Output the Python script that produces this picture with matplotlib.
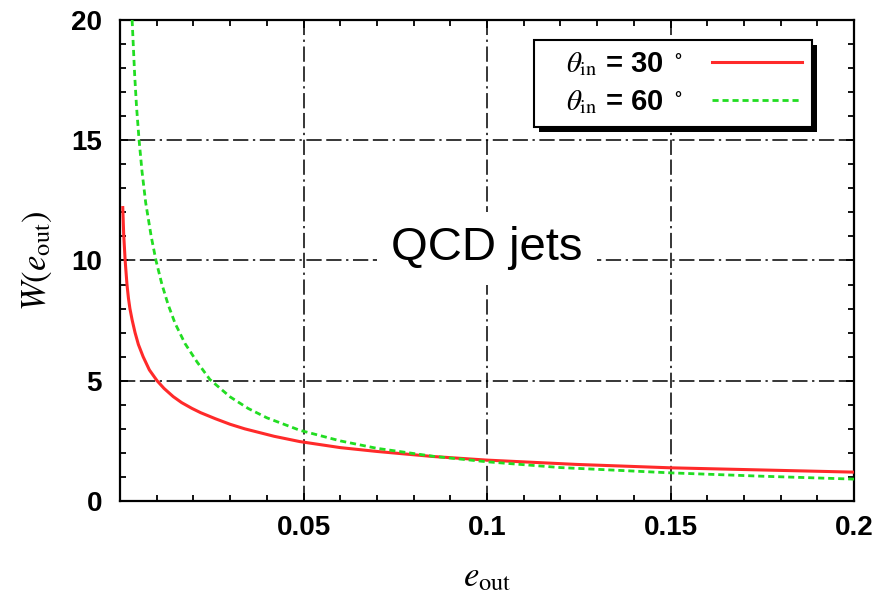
import numpy as np
import matplotlib
matplotlib.use("Agg")
import matplotlib.pyplot as plt
from matplotlib.ticker import MultipleLocator
from matplotlib.patches import Rectangle

plt.rcParams['font.family'] = ['Liberation Sans', 'DejaVu Sans']
plt.rcParams['mathtext.fontset'] = 'stix'

# W(e_out) for two jet opening angles
e_30 = [0.00075, 0.001, 0.0014, 0.0019, 0.0023, 0.0027, 0.0033, 0.0041, 0.005,
        0.0063, 0.008, 0.0101, 0.012, 0.0145, 0.0168, 0.0196, 0.022, 0.026,
        0.03, 0.034, 0.042, 0.049, 0.06, 0.07, 0.0853,
        0.1, 0.1245, 0.15, 0.175, 0.2]
w_30 = [12.2, 11.1, 10.0, 9.0, 8.43, 8.0, 7.53, 7.0, 6.51,
        6.0, 5.45, 5.0, 4.68, 4.34, 4.09, 3.85, 3.67, 3.42,
        3.19, 3.0, 2.69, 2.47, 2.22, 2.06, 1.85,
        1.70, 1.52, 1.38, 1.29, 1.2]

e_60 = [0.0033, 0.004, 0.0045, 0.0052, 0.006, 0.007, 0.0085, 0.0098, 0.0114,
        0.0131, 0.015, 0.0177, 0.021, 0.0245, 0.03, 0.0349, 0.04, 0.049,
        0.06, 0.07, 0.0853, 0.1, 0.12, 0.15, 0.175, 0.2]
w_60 = [20.0, 17.7, 16.4, 15.0, 13.7, 12.4, 11.0, 10.0, 9.02,
        8.17, 7.39, 6.55, 5.78, 5.05, 4.33, 3.85, 3.46, 2.94,
        2.50, 2.19, 1.86, 1.63, 1.39, 1.17, 1.03, 0.91]

labels = [r'$\theta_{\rm in}$ = 30 $^\circ$', r'$\theta_{\rm in}$ = 60 $^\circ$']
xticks = [0.05, 0.1, 0.15, 0.2]
xticklabels = ['0.05', '0.1', '0.15', '0.2']
yticks = [0, 5, 10, 15, 20]

fig = plt.figure(figsize=(8.85, 6.05), dpi=100)
ax = fig.add_axes([0.1356, 0.1719, 0.8294, 0.7951])

ax.plot(e_30, w_30, color='#ff2a2a', lw=2.2, label=labels[0], zorder=3)
ax.plot(e_60, w_60, color='#22dd22', lw=2.0, dashes=(2.2, 1.4), label=labels[1], zorder=3)

ax.set_xlim(0, 0.2)
ax.set_ylim(0, 20)
ax.set_xticks(xticks)
ax.set_xticklabels(xticklabels)
ax.set_yticks(yticks)
ax.xaxis.set_minor_locator(MultipleLocator(0.01))
ax.yaxis.set_minor_locator(MultipleLocator(1))
ax.tick_params(which='both', direction='in', top=True, right=True, width=1.3)
ax.tick_params(which='major', length=6)
ax.tick_params(which='minor', length=4)
ax.tick_params(axis='x', pad=10, labelsize=20)
ax.tick_params(axis='y', pad=13, labelsize=20)
for lab in ax.get_xticklabels() + ax.get_yticklabels():
    lab.set_fontweight('bold')
for sp in ax.spines.values():
    sp.set_linewidth(1.6)

ax.grid(True, which='major', color='black', lw=1.1,
        linestyle=(0, (10, 3, 10, 3, 1.5, 3)))

ax.set_xlabel(r'$e_{\rm out}$', fontsize=25, labelpad=14)
ax.set_ylabel(r'$W(e_{\rm out})$', fontsize=25, labelpad=12)

ax.text(0.1, 10.5, 'QCD jets', fontsize=34, ha='center', va='center',
        bbox=dict(boxstyle='square,pad=0.3', fc='white', ec='none'), zorder=4)

leg = ax.legend(loc='upper right', bbox_to_anchor=(0.943, 0.958), borderaxespad=0,
                markerfirst=False, handlelength=3.1, handletextpad=1.0,
                frameon=False, prop=dict(size=21, weight='bold'),
                borderpad=0.35, labelspacing=0.35)

# legend frame with a wider left margin and a solid drop shadow
fig.canvas.draw()
bb = leg.get_window_extent()
x0, w = bb.x0 - 22, bb.width + 22
ax.add_artist(Rectangle((x0 + 5, bb.y0 - 5), w, bb.height, transform=None,
                        facecolor='black', edgecolor='none', zorder=4.8))
ax.add_artist(Rectangle((x0, bb.y0), w, bb.height, transform=None,
                        facecolor='white', edgecolor='black', lw=1.5, zorder=4.9))

fig.savefig('out.png', dpi=100)
